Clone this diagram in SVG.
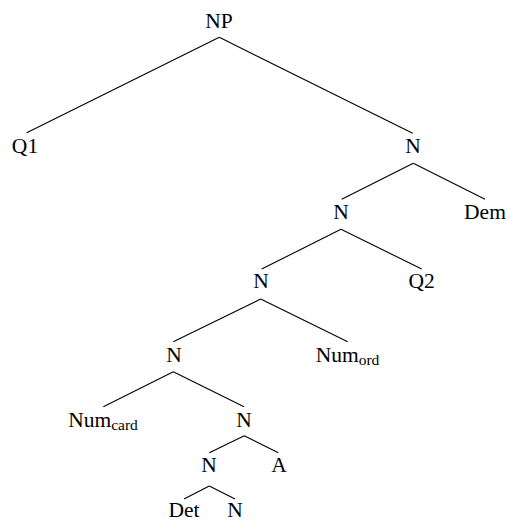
<svg xmlns="http://www.w3.org/2000/svg" width="508" height="523" viewBox="0 0 508 523">
<style>
text{font-family:"Liberation Serif","Times New Roman",serif;font-size:21.5px;fill:#000;text-anchor:middle}
.sub{font-size:15.5px}
line{stroke:#000;stroke-width:1.1}
</style>
<rect width="508" height="523" fill="#fff"/>
<g id="connectors">
<line x1="219.3" y1="37.3" x2="26.7" y2="132.7"/>
<line x1="219.3" y1="37.3" x2="412.7" y2="133.3"/>
<line x1="413.3" y1="163.3" x2="341.7" y2="199.3"/>
<line x1="413.3" y1="163.3" x2="485" y2="199.3"/>
<line x1="341" y1="229.3" x2="261.7" y2="269"/>
<line x1="341" y1="229.3" x2="421.7" y2="269"/>
<line x1="260.7" y1="299" x2="173.3" y2="341.7"/>
<line x1="260.7" y1="299" x2="347.7" y2="341.7"/>
<line x1="173.3" y1="371.7" x2="103.3" y2="406.7"/>
<line x1="173.3" y1="371.7" x2="244" y2="406.7"/>
<line x1="244.3" y1="435.7" x2="209.3" y2="452.7"/>
<line x1="244.3" y1="435.7" x2="278.3" y2="452.7"/>
<line x1="209.3" y1="486" x2="184" y2="499"/>
<line x1="209.3" y1="486" x2="235" y2="499"/>
</g>
<g id="np"><text x="219" y="27.5">NP</text></g>
<g id="q1"><text x="25" y="152.7">Q1</text></g>
<g id="n1"><text x="413" y="152.7">N</text></g>
<g id="n2"><text x="341" y="219.3">N</text></g>
<g id="dem"><text x="485" y="219.3">Dem</text></g>
<g id="n3"><text x="261" y="288.3">N</text></g>
<g id="q2"><text x="421.7" y="288.3">Q2</text></g>
<g id="n4"><text x="174" y="361.7">N</text></g>
<g id="numord"><text x="347.5" y="361.7">Num<tspan class="sub" dy="3.3">ord</tspan></text></g>
<g id="numcard"><text x="103" y="426.7">Num<tspan class="sub" dy="3.3">card</tspan></text></g>
<g id="n5"><text x="244" y="426.7">N</text></g>
<g id="n6"><text x="209" y="472.3">N</text></g>
<g id="a"><text x="279" y="472.3">A</text></g>
<g id="det"><text x="184" y="517.3">Det</text></g>
<g id="n7"><text x="235" y="517.3">N</text></g>
</svg>
